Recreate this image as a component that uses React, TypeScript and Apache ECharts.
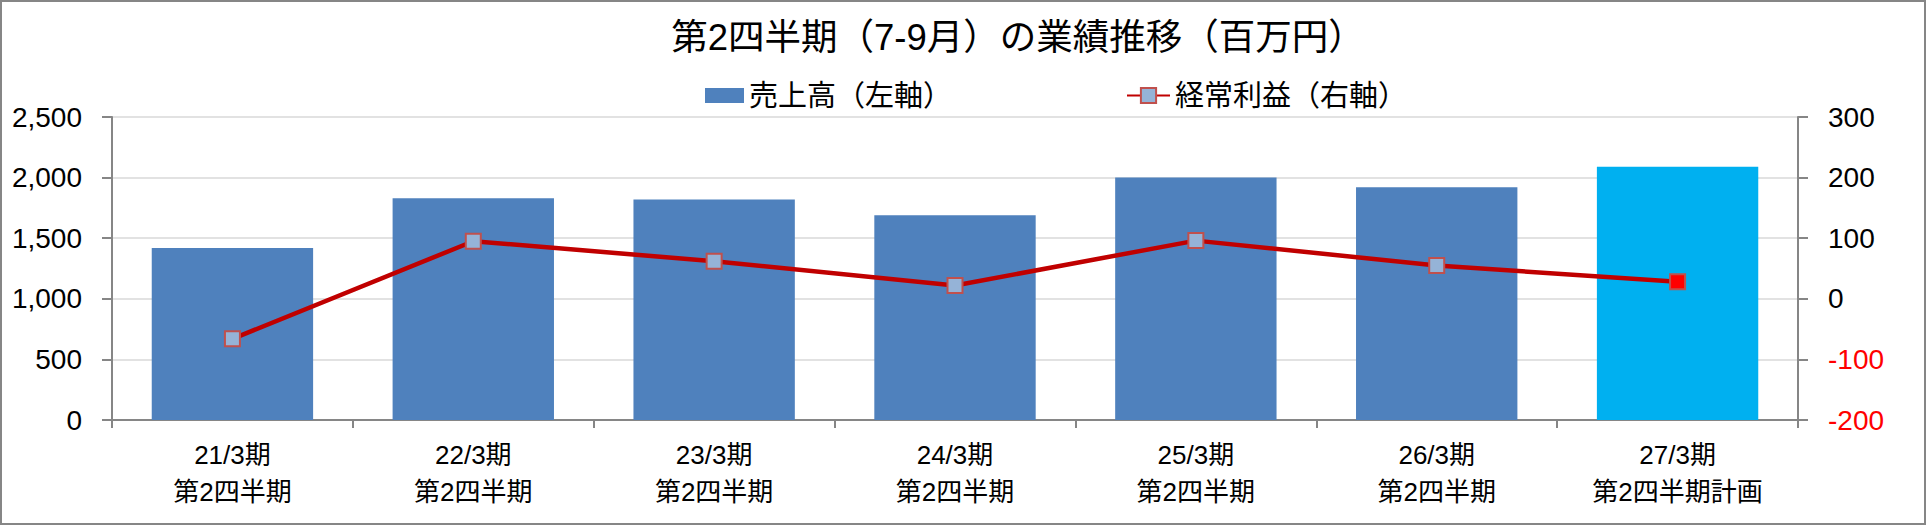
import React, { useEffect, useRef } from "react";
import * as echarts from "echarts";

const periods = ["21/3期", "22/3期", "23/3期", "24/3期", "25/3期", "26/3期", "27/3期"];
const quarterLabels = ["第2四半期", "第2四半期", "第2四半期", "第2四半期", "第2四半期", "第2四半期", "第2四半期計画"];
const sales = [1420, 1830, 1820, 1690, 2000, 1920, 2090];
const ordinaryProfit = [-66, 95, 62, 22, 96, 55, 28];
const leftTicks = { min: 0, max: 2500, interval: 500 };
const rightTicks = { min: -200, max: 300, interval: 100 };

const titleText = "第2四半期（7-9月）の業績推移（百万円）";
const salesName = "売上高（左軸）";
const profitName = "経常利益（右軸）";

const FONT = "'Liberation Sans', 'Noto Sans CJK JP', sans-serif";
const BAR_COLOR = "#4F81BD";
const PLAN_BAR_COLOR = "#00B0F0";
const LINE_COLOR = "#C00000";
const MARKER_FILL = "#95B3D7";
const PLAN_MARKER_FILL = "#FF0000";
const MARKER_BORDER = "#C0504D";
const AXIS_GRAY = "#868686";
const GRID_GRAY = "#D9D9D9";

export default function App() {
  const ref = useRef<HTMLDivElement>(null);

  useEffect(() => {
    document.body.style.margin = "0";
    if (!ref.current) return;
    const chart = echarts.init(ref.current, undefined, { renderer: "svg" });
    const lastIdx = sales.length - 1;
    const categories = periods.map((p, i) => `${p}\n${quarterLabels[i]}`);

    const option: any = {
      animation: false,
      backgroundColor: "#FFFFFF",
      textStyle: { fontFamily: FONT },
      title: {
        text: titleText,
        left: 1013,
        top: 32,
        textAlign: "center",
        textVerticalAlign: "middle",
        textStyle: { fontFamily: FONT, fontSize: 36.5, fontWeight: "normal", color: "#000000" },
      },
      legend: [
        {
          data: [salesName],
          left: 700,
          top: 76,
          icon: "rect",
          itemWidth: 39,
          itemHeight: 15,
          itemGap: 5,
          textStyle: { fontFamily: FONT, fontSize: 29, color: "#000000" },
        },
        {
          data: [profitName],
          left: 1121,
          top: 76,
          itemWidth: 43,
          itemHeight: 19,
          itemGap: 5,
          textStyle: { fontFamily: FONT, fontSize: 29, color: "#000000" },
        },
      ],
      grid: { left: 112, right: 128, top: 117, bottom: 105, containLabel: false },
      xAxis: {
        type: "category",
        data: categories,
        boundaryGap: true,
        axisLine: { show: true, lineStyle: { color: AXIS_GRAY, width: 2 } },
        axisTick: { show: true, alignWithLabel: false, length: 8, lineStyle: { color: AXIS_GRAY, width: 2 } },
        axisLabel: {
          margin: 16,
          fontFamily: FONT,
          fontSize: 26,
          lineHeight: 37,
          color: "#000000",
          interval: 0,
        },
        splitLine: { show: false },
      },
      yAxis: [
        {
          type: "value",
          position: "left",
          min: leftTicks.min,
          max: leftTicks.max,
          interval: leftTicks.interval,
          axisLine: { show: true, lineStyle: { color: AXIS_GRAY, width: 2 } },
          axisTick: { show: true, length: 10, lineStyle: { color: AXIS_GRAY, width: 2 } },
          axisLabel: {
            margin: 30,
            fontFamily: FONT,
            fontSize: 28,
            color: "#000000",
            formatter: (v: number) => v.toLocaleString("en-US"),
          },
          splitLine: { show: true, lineStyle: { color: GRID_GRAY, width: 1.5 } },
        },
        {
          type: "value",
          position: "right",
          min: rightTicks.min,
          max: rightTicks.max,
          interval: rightTicks.interval,
          axisLine: { show: true, lineStyle: { color: AXIS_GRAY, width: 2 } },
          axisTick: { show: true, length: 10, lineStyle: { color: AXIS_GRAY, width: 2 } },
          axisLabel: {
            margin: 30,
            fontFamily: FONT,
            fontSize: 28,
            color: "#000000",
            formatter: (v: number) => (v < 0 ? `{neg|${v}}` : `${v}`),
            rich: { neg: { color: "#FF0000", fontFamily: FONT, fontSize: 28 } },
          },
          splitLine: { show: false },
        },
      ],
      series: [
        {
          name: salesName,
          type: "bar",
          yAxisIndex: 0,
          barCategoryGap: "33%",
          itemStyle: { color: BAR_COLOR },
          data: sales.map((v, i) =>
            i === lastIdx ? { value: v, itemStyle: { color: PLAN_BAR_COLOR } } : v
          ),
        },
        {
          name: profitName,
          type: "line",
          yAxisIndex: 1,
          symbol: "rect",
          symbolSize: 15,
          lineStyle: { color: LINE_COLOR, width: 4.5 },
          itemStyle: { color: MARKER_FILL, borderColor: MARKER_BORDER, borderWidth: 2 },
          data: ordinaryProfit.map((v, i) =>
            i === lastIdx
              ? { value: v, itemStyle: { color: PLAN_MARKER_FILL, borderColor: MARKER_BORDER, borderWidth: 2 } }
              : v
          ),
        },
      ],
    };
    chart.setOption(option);
    return () => chart.dispose();
  }, []);

  return (
    <div style={{ position: "absolute", left: 0, top: 0, width: 1926, height: 525 }}>
      <div ref={ref} style={{ position: "absolute", left: 0, top: 0, width: 1926, height: 525 }} />
      <div
        style={{
          position: "absolute",
          left: 0,
          top: 0,
          width: 1926,
          height: 525,
          boxSizing: "border-box",
          border: "2px solid #868686",
          pointerEvents: "none",
        }}
      />
    </div>
  );
}
